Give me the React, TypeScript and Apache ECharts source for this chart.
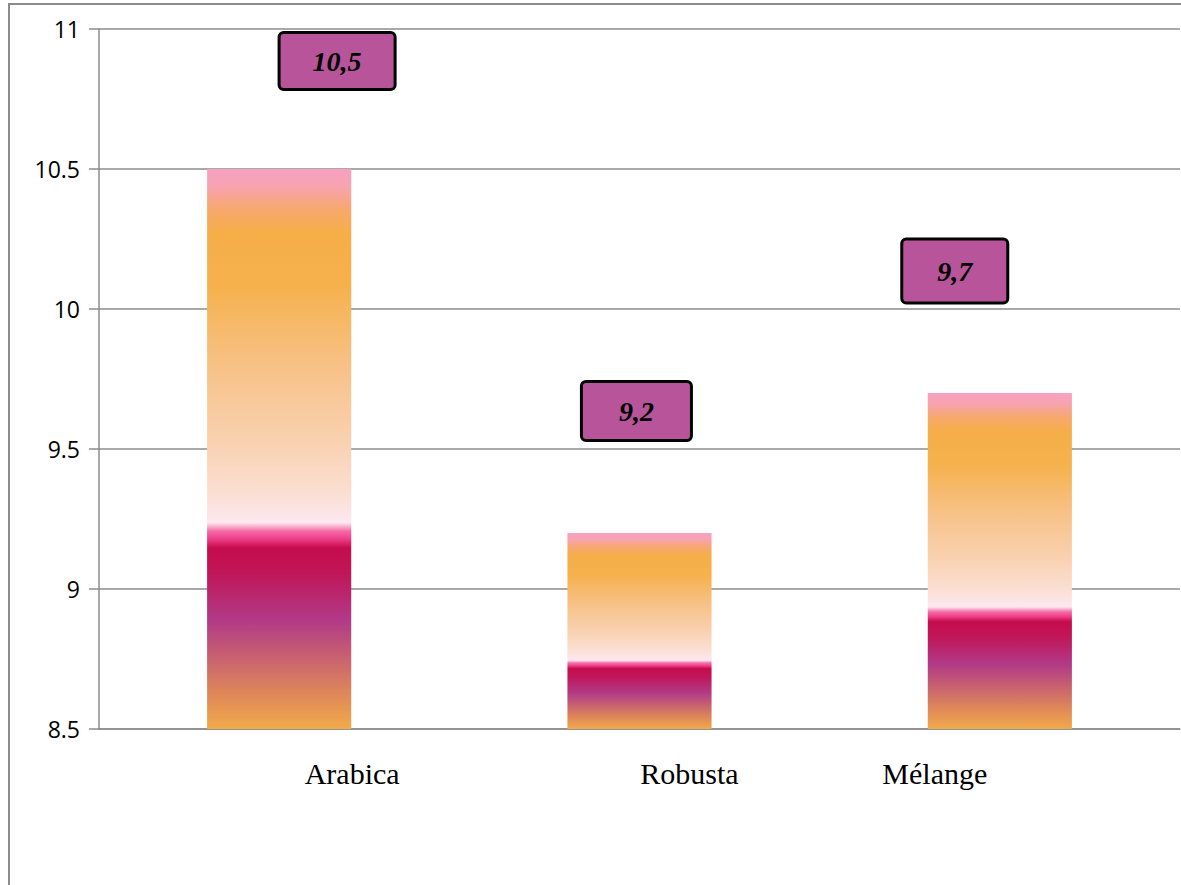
import React, { useEffect, useRef } from "react";
import * as echarts from "echarts";

// Coffee types and their values
const categories = ["Arabica", "Robusta", "Mélange"];
const values = [10.5, 9.2, 9.7];

// Y axis range
const yMin = 8.5;
const yMax = 11;
const yStep = 0.5;

// Where the pale band turns into the crimson band, as a fraction of each bar from its top
const bandBreaks = [0.632, 0.65, 0.637];

// Value-label boxes: anchor relative to the bar's top-left corner, and box size
const labelAnchors = [
  [130, -108],
  [69, -122],
  [27, -122],
];
const labelBoxes = [
  [113, 54],
  [107, 56],
  [103, 61],
];

// Horizontal shift of each category name from its slot centre
const categoryLabelShift = [73, 50, -65];

const GRAY = "#8c8c8c";

const upperStops: [number, string][] = [
  [0, "#F8A0C4"],
  [0.05, "#F8A3B0"],
  [0.11, "#F6A870"],
  [0.18, "#F5AE48"],
  [0.33, "#F6B14D"],
  [0.55, "#F7C185"],
  [0.78, "#F9D2B2"],
  [0.92, "#FBDFD4"],
  [1, "#FDE8F0"],
];
const lowerStops: [number, string][] = [
  [0, "#FCE4EE"],
  [0.04, "#F46BA6"],
  [0.08, "#ED3C86"],
  [0.12, "#C50C4C"],
  [0.25, "#C0175A"],
  [0.47, "#B13A87"],
  [0.66, "#C9636F"],
  [0.84, "#E08A58"],
  [1, "#F2AA4A"],
];

function barGradient(t: number) {
  const stops = [
    ...upperStops.map(([o, c]) => ({ offset: o * t, color: c })),
    ...lowerStops.map(([o, c]) => ({ offset: t + o * (1 - t), color: c })),
  ];
  return new echarts.graphic.LinearGradient(0, 0, 0, 1, stops);
}

export default function App() {
  const ref = useRef<HTMLDivElement>(null);

  useEffect(() => {
    document.body.style.margin = "0";
    if (!ref.current) return;
    const chart = echarts.init(ref.current, undefined, { renderer: "svg" });

    const rich: Record<string, any> = {};
    categoryLabelShift.forEach((s, i) => {
      rich["c" + i] = {
        fontFamily: "Liberation Serif",
        fontSize: 30,
        color: "#000",
        padding: s >= 0 ? [0, 0, 0, 2 * s] : [0, -2 * s, 0, 0],
      };
    });

    const seriesData = values.map((v, i) => ({
      value: v,
      itemStyle: { color: barGradient(bandBreaks[i]) },
      label: {
        position: labelAnchors[i],
        width: labelBoxes[i][0],
        height: labelBoxes[i][1],
        lineHeight: labelBoxes[i][1],
      },
    }));

    chart.setOption({
      animation: false,
      backgroundColor: "#fff",
      graphic: [
        {
          type: "rect",
          z: -1,
          shape: { x: 9, y: 4, width: 1400, height: 1200 },
          style: { fill: "none", stroke: GRAY, lineWidth: 2 },
        },
      ],
      grid: { left: 99, top: 29, right: 1, bottom: 156, containLabel: false },
      xAxis: {
        type: "category",
        data: categories,
        axisLine: { show: true, lineStyle: { color: GRAY, width: 1.5 } },
        axisTick: { show: false },
        axisLabel: {
          margin: 29,
          formatter: (v: string, i: number) => `{c${i}|${v}}`,
          rich,
        },
      },
      yAxis: {
        type: "value",
        min: yMin,
        max: yMax,
        interval: yStep,
        startValue: yMin,
        axisLine: { show: true, lineStyle: { color: GRAY, width: 1.5 } },
        axisTick: { show: true, length: 10, lineStyle: { color: GRAY, width: 1.5 } },
        splitLine: { show: true, lineStyle: { color: GRAY, width: 1.5 } },
        axisLabel: {
          margin: 19,
          fontFamily: "Open Sans",
          fontSize: 23,
          color: "#000",
        },
      },
      series: [
        {
          type: "bar",
          barWidth: "40%",
          data: seriesData,
          label: {
            show: true,
            align: "center",
            verticalAlign: "middle",
            formatter: (p: any) => String(p.value).replace(".", ","),
            fontFamily: "Liberation Serif",
            fontStyle: "italic",
            fontWeight: "bold",
            fontSize: 28,
            color: "#000",
            backgroundColor: "#B8559A",
            borderColor: "#000",
            borderWidth: 3,
            borderRadius: 3,
            padding: 0,
          },
        },
      ],
    });

    return () => chart.dispose();
  }, []);

  return <div ref={ref} style={{ width: 1181, height: 885 }} />;
}
